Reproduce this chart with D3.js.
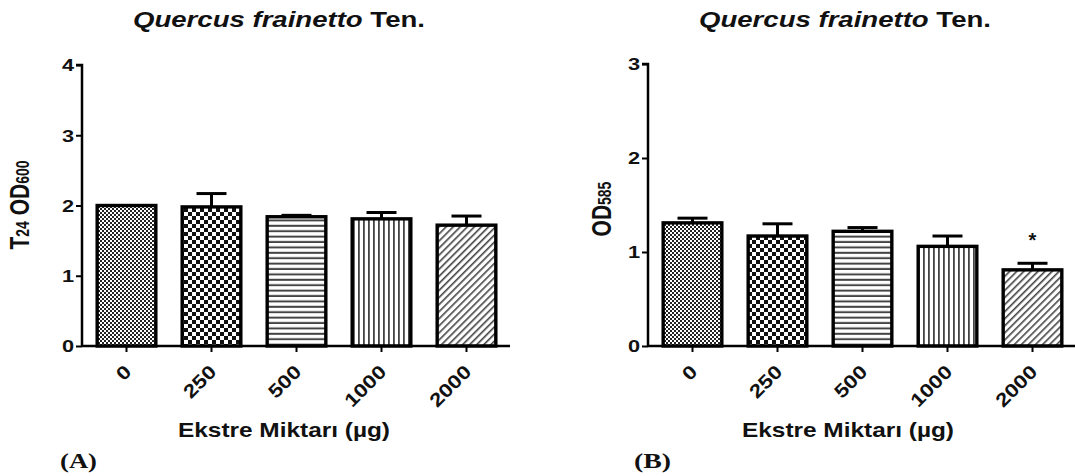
<!DOCTYPE html>
<html>
<head>
<meta charset="utf-8">
<script src="https://cdn.jsdelivr.net/npm/d3@7"></script>
<style>
  body { margin: 0; background: #fff; }
  text { font-family: Arial, "Liberation Sans", sans-serif; font-weight: bold; fill: #111; }
</style>
</head>
<body>
<div class="canva"></div>
<script>
// data
const doses = ['0', '250', '500', '1000', '2000'];
const patterns = ['fineChecker', 'bigChecker', 'hLines', 'vLines', 'diag'];

// panel A: T24 OD600
const meanA = [2.00, 1.98, 1.84, 1.81, 1.72];
const errA = [0.0, 0.19, 0.02, 0.09, 0.13];
const ticksA = [0, 1, 2, 3, 4];

// panel B: OD585
const meanB = [1.31, 1.17, 1.22, 1.06, 0.81];
const errB = [0.05, 0.13, 0.04, 0.11, 0.07];
const ticksB = [0, 1, 2, 3];

// the source picture is stretched sideways, so text is too
const SX = 1.28;

const svg = d3.select('.canva').append('svg')
    .attr('width', 1075)
    .attr('height', 476);

// fill patterns
const defs = svg.append('defs');

const p1 = defs.append('pattern').attr('id', 'fineChecker')
    .attr('patternUnits', 'userSpaceOnUse').attr('width', 4).attr('height', 4);
p1.append('rect').attr('width', 4).attr('height', 4).attr('fill', '#fff');
p1.append('rect').attr('width', 2).attr('height', 2).attr('fill', '#222');
p1.append('rect').attr('x', 2).attr('y', 2).attr('width', 2).attr('height', 2).attr('fill', '#222');

const p2 = defs.append('pattern').attr('id', 'bigChecker')
    .attr('patternUnits', 'userSpaceOnUse').attr('width', 8).attr('height', 8);
p2.append('rect').attr('width', 8).attr('height', 8).attr('fill', '#fff');
p2.append('rect').attr('width', 4).attr('height', 4).attr('fill', '#111');
p2.append('rect').attr('x', 4).attr('y', 4).attr('width', 4).attr('height', 4).attr('fill', '#111');

const p3 = defs.append('pattern').attr('id', 'hLines')
    .attr('patternUnits', 'userSpaceOnUse').attr('width', 6).attr('height', 5.4);
p3.append('rect').attr('width', 6).attr('height', 5.4).attr('fill', '#fff');
p3.append('rect').attr('y', 3.4).attr('width', 6).attr('height', 2).attr('fill', '#444');

const p4 = defs.append('pattern').attr('id', 'vLines')
    .attr('patternUnits', 'userSpaceOnUse').attr('width', 5).attr('height', 6);
p4.append('rect').attr('width', 5).attr('height', 6).attr('fill', '#fff');
p4.append('rect').attr('x', 3).attr('width', 1.8).attr('height', 6).attr('fill', '#444');

const p5 = defs.append('pattern').attr('id', 'diag')
    .attr('patternUnits', 'userSpaceOnUse').attr('width', 5).attr('height', 5)
    .attr('patternTransform', 'rotate(45)');
p5.append('rect').attr('width', 5).attr('height', 5).attr('fill', '#fff');
p5.append('rect').attr('width', 1.6).attr('height', 5).attr('fill', '#444');

function panel(opts) {
    const {axisX, top, bottom, yMax, ticks, means, errs, titleX, labelX, labelY, letter, letterX, yLabel} = opts;

    const y = d3.scaleLinear().domain([0, yMax]).range([bottom, top]);
    const x = d3.scaleBand()
        .domain(doses)
        .range([axisX + 2, axisX + 427])
        .paddingInner(0.31)
        .paddingOuter(0.155);

    const g = svg.append('g');

    // title
    const title = g.append('text')
        .attr('x', titleX - 146).attr('y', 27)
        .attr('textLength', 292)
        .attr('lengthAdjust', 'spacingAndGlyphs')
        .style('font-size', '22px');
    title.append('tspan').attr('font-style', 'italic').text('Quercus frainetto');
    title.append('tspan').text(' Ten.');

    // bars
    g.selectAll('rect.bar')
        .data(means)
        .enter().append('rect')
        .attr('class', 'bar')
        .attr('x', (d, i) => x(doses[i]))
        .attr('y', d => y(d))
        .attr('width', x.bandwidth())
        .attr('height', d => y(0) - y(d))
        .attr('fill', (d, i) => `url(#${patterns[i]})`)
        .attr('stroke', '#000')
        .attr('stroke-width', 3.4);

    // error bars
    const eb = g.selectAll('g.err')
        .data(means)
        .enter().append('g')
        .attr('class', 'err')
        .attr('stroke', '#000')
        .attr('stroke-width', 3);
    eb.append('line')
        .attr('x1', (d, i) => x(doses[i]) + x.bandwidth() / 2)
        .attr('x2', (d, i) => x(doses[i]) + x.bandwidth() / 2)
        .attr('y1', d => y(d))
        .attr('y2', (d, i) => y(d + errs[i]));
    eb.append('line')
        .attr('x1', (d, i) => x(doses[i]) + x.bandwidth() / 2 - 15)
        .attr('x2', (d, i) => x(doses[i]) + x.bandwidth() / 2 + 15)
        .attr('y1', (d, i) => y(d + errs[i]))
        .attr('y2', (d, i) => y(d + errs[i]));

    // y axis
    const yAxis = g.append('g')
        .attr('transform', `translate(${axisX},0)`)
        .call(d3.axisLeft(y).tickValues(ticks).tickFormat(d3.format('d')).tickSize(6));
    yAxis.select('.domain').attr('stroke-width', 2.5).attr('d', `M-6,${y(yMax)}H0V${y(0)}`);
    yAxis.selectAll('.tick line').attr('stroke-width', 2);
    yAxis.selectAll('.tick text')
        .style('font-size', '17px')
        .style('font-family', 'Arial, "Liberation Sans", sans-serif')
        .style('font-weight', 'bold')
        .attr('x', 0)
        .attr('dy', '0.35em')
        .attr('transform', `translate(-8,0) scale(${SX},1)`);

    // x axis
    const xAxis = g.append('g')
        .attr('transform', `translate(0,${bottom})`)
        .call(d3.axisBottom(x).tickSize(6).tickSizeOuter(0));
    xAxis.select('.domain').attr('stroke-width', 2.5).attr('d', `M${axisX},0H${axisX + 428}`);
    xAxis.selectAll('.tick line').attr('stroke-width', 2);
    xAxis.selectAll('.tick text')
        .style('font-size', '19px')
        .style('font-family', 'Arial, "Liberation Sans", sans-serif')
        .style('font-weight', 'bold')
        .attr('text-anchor', 'end')
        .attr('dy', null)
        .attr('y', 0)
        .attr('textLength', d => d.length * 12.5)
        .attr('lengthAdjust', 'spacingAndGlyphs')
        .attr('transform', 'translate(6,27) rotate(-45)');

    // x axis title
    g.append('text')
        .attr('x', labelX - 106).attr('y', 437)
        .attr('textLength', 212)
        .attr('lengthAdjust', 'spacingAndGlyphs')
        .style('font-size', '21px')
        .text('Ekstre Miktarı (µg)');

    // y axis title
    const yl = g.append('text')
        .attr('transform', `translate(${labelY.x},${labelY.y}) scale(${SX},1) rotate(-90)`)
        .attr('text-anchor', 'middle')
        .style('font-size', '21px');
    yLabel.forEach(part => {
        yl.append('tspan').style('font-size', part.sub ? '14px' : '21px').text(part.t);
    });

    // panel letter
    g.append('text')
        .attr('x', letterX).attr('y', 468)
        .attr('textLength', 37)
        .attr('lengthAdjust', 'spacingAndGlyphs')
        .style('font-family', '"Liberation Serif", "DejaVu Serif", serif')
        .style('font-size', '20px')
        .text(letter);

    return {x, y, g};
}

panel({
    axisX: 82, top: 65, bottom: 346, yMax: 4, ticks: ticksA,
    means: meanA, errs: errA, titleX: 279, labelX: 284,
    labelY: {x: 29, y: 205}, letter: '(A)', letterX: 60,
    yLabel: [{t: 'T'}, {t: '24', sub: true}, {t: ' OD'}, {t: '600', sub: true}]
});

const pb = panel({
    axisX: 648, top: 64, bottom: 346, yMax: 3, ticks: ticksB,
    means: meanB, errs: errB, titleX: 845, labelX: 848,
    labelY: {x: 611, y: 209}, letter: '(B)', letterX: 634,
    yLabel: [{t: 'OD'}, {t: '585', sub: true}]
});

// significance mark on the 2000 bar of panel B
pb.g.append('text')
    .attr('x', pb.x('2000') + pb.x.bandwidth() / 2)
    .attr('y', pb.y(meanB[4] + errB[4]) - 16)
    .attr('text-anchor', 'middle')
    .style('font-size', '20px')
    .text('*');
</script>
</body>
</html>
